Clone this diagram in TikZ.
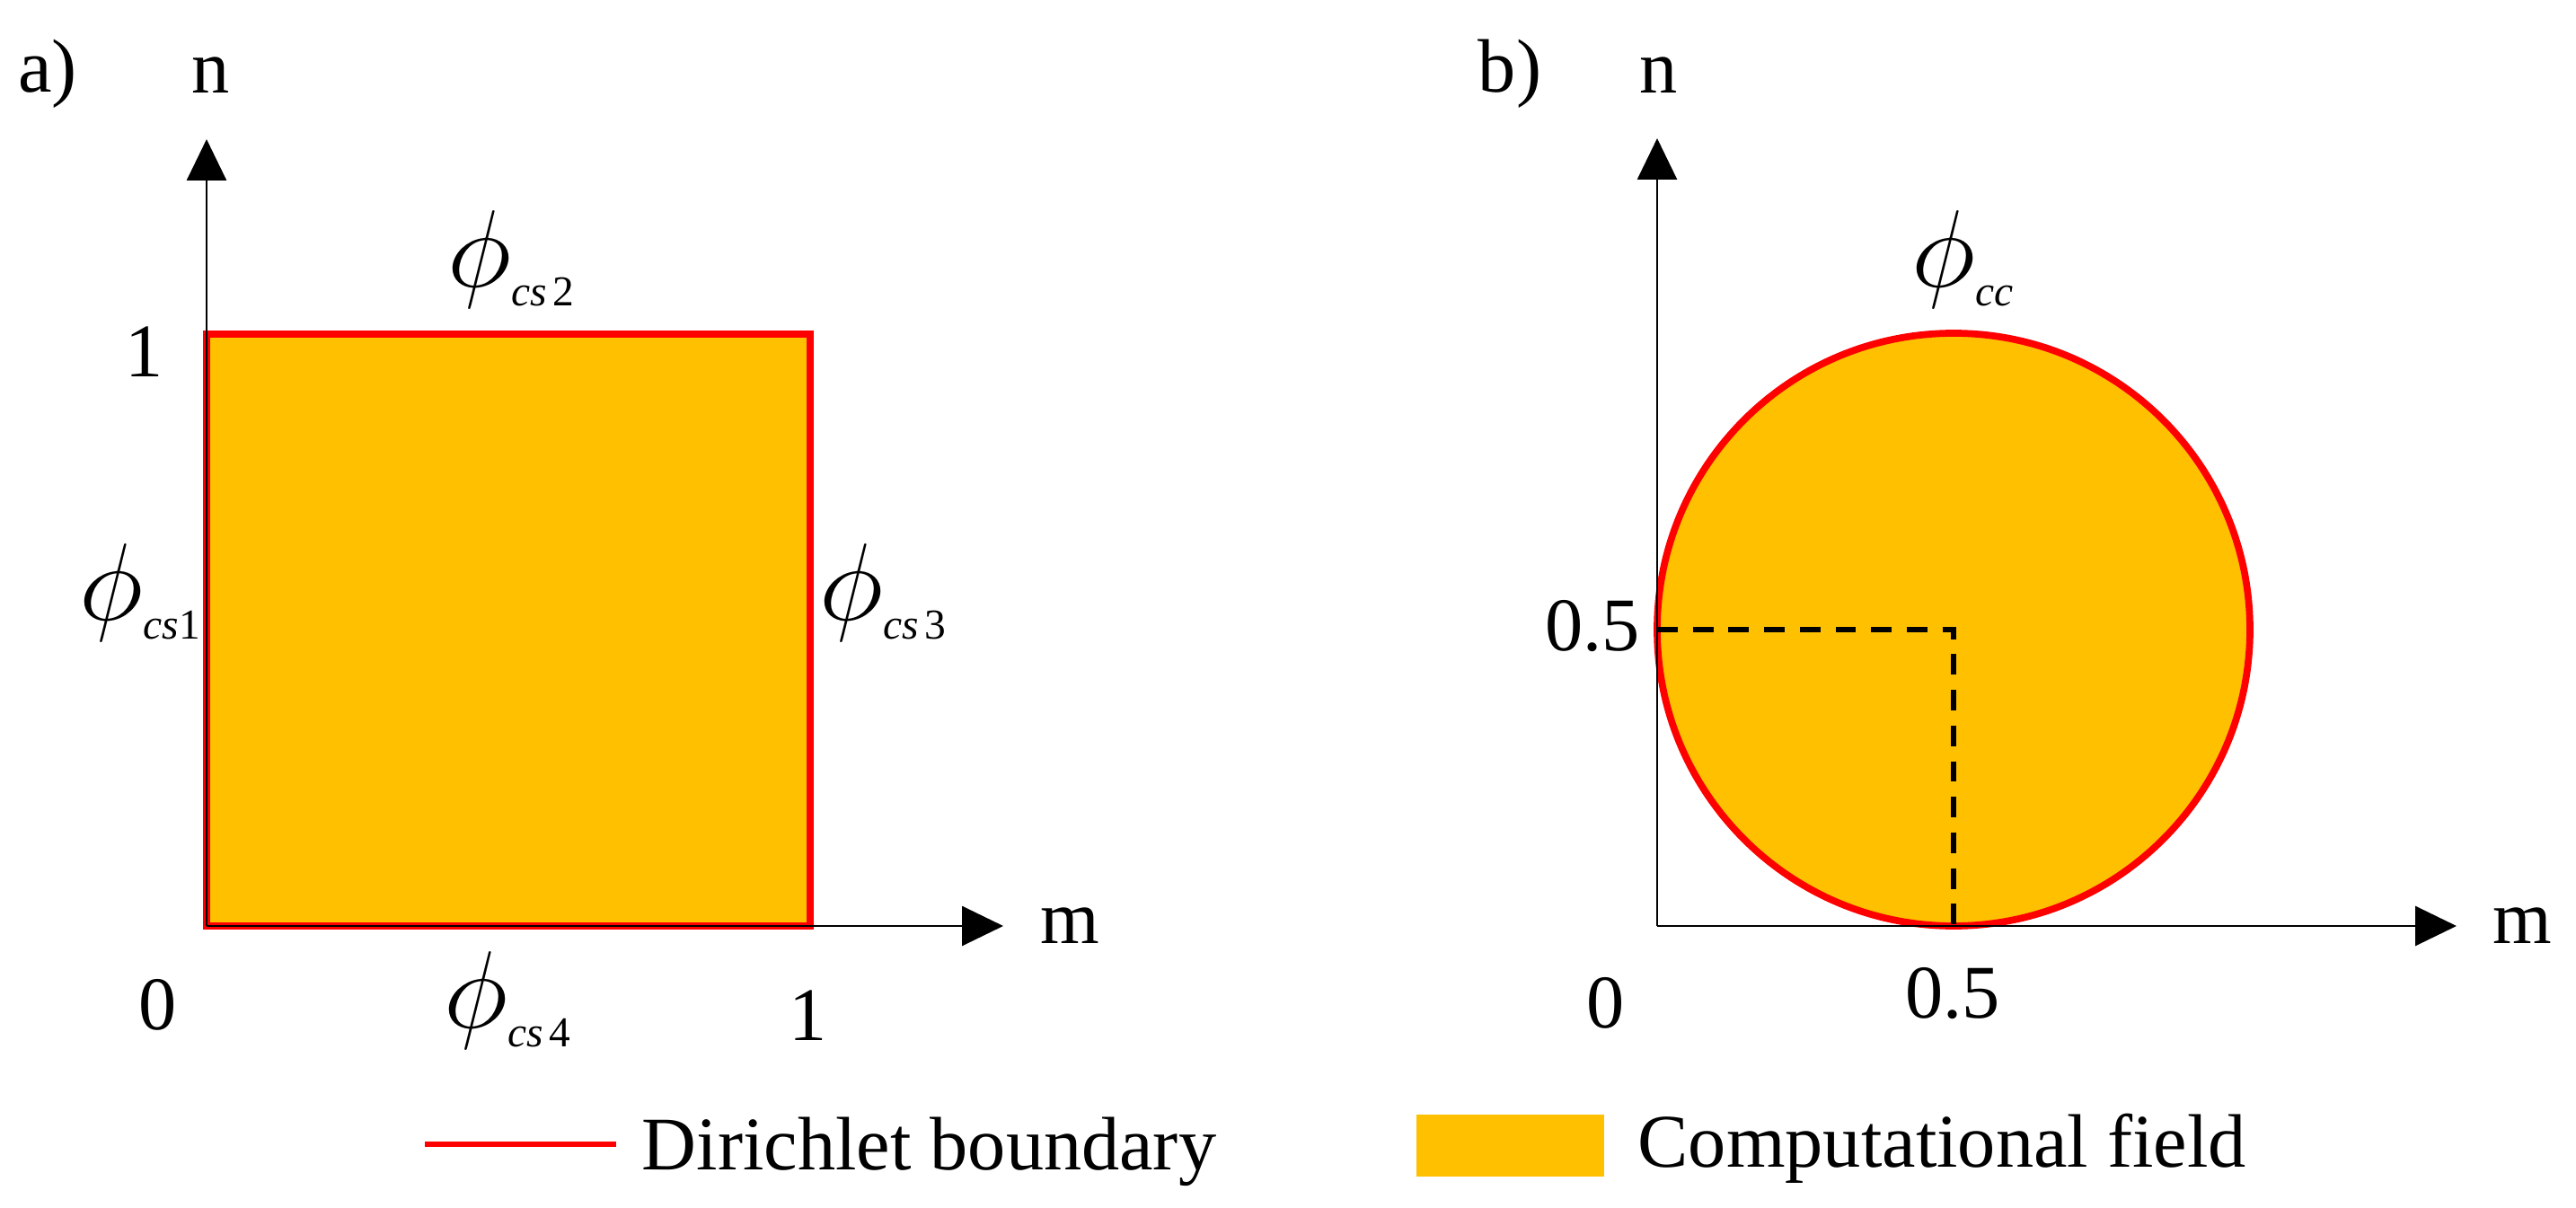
\RequirePackage{fix-cm}
\documentclass[tikz,border=0pt]{standalone}
\usepackage{graphicx}
\usepackage{fontspec}
\setmainfont{Liberation Serif}
\usetikzlibrary{arrows.meta}
\definecolor{fieldgold}{HTML}{FFC000}
\definecolor{bcred}{HTML}{FF0000}
\newcommand{\bcphi}[1]{\scalebox{1.45}{$\phi$}\raisebox{-6pt}{\fontsize{13.5}{15}\selectfont #1}}
\tikzset{
  lbl/.style={font=\fontsize{24}{28}\selectfont, inner sep=0pt},
  philbl/.style={font=\fontsize{24}{28}\selectfont, inner sep=0pt},
  leg/.style={font=\fontsize{24}{28}\selectfont, inner sep=0pt, anchor=base west},
  axis/.style={line width=0.8pt, -{Triangle[length=0.46cm, width=0.44cm]}},
  field/.style={fill=fieldgold, draw=bcred, line width=2.4pt},
  guide/.style={line width=1.6pt, dash pattern=on 6.5pt off 4.8pt}
}
\begin{document}
\begin{tikzpicture}
    \useasboundingbox (0,0) rectangle (28.68,13.44);

    % panel a
    \coordinate (O1) at (2.30,3.13);
    \coordinate (N1) at (2.30,11.89);
    \coordinate (M1) at (11.17,3.13);
    \coordinate (R1) at (9.02,9.72);
    \draw[field] (O1) rectangle (R1);
    \draw[axis] (O1) -- (N1);
    \draw[axis] (O1) -- (M1);
    \node[lbl] (A) at (0.53,12.62) {a)};
    \node[lbl] (nA) at (2.35,12.60) {n};
    \node[lbl] (mA) at (11.91,3.13) {m};
    \node[lbl] (oneA) at (1.61,9.52) {1};
    \node[lbl] (zeroA) at (1.76,2.25) {0};
    \node[lbl] (oneB) at (9.00,2.13) {1};
    \node[philbl] (cs1) at (1.56,6.84) {\bcphi{\textit{cs}1}};
    \node[philbl] (cs2) at (5.69,10.55) {\bcphi{\textit{cs}\kern2pt2}};
    \node[philbl] (cs3) at (9.83,6.84) {\bcphi{\textit{cs}\kern2pt3}};
    \node[philbl] (cs4) at (5.65,2.30) {\bcphi{\textit{cs}\kern2pt4}};

    % panel b
    \coordinate (O2) at (18.45,3.13);
    \coordinate (N2) at (18.45,11.90);
    \coordinate (M2) at (27.35,3.13);
    \coordinate (C2) at (21.75,6.43);
    \coordinate (L2) at (18.45,6.43);
    \coordinate (B2) at (21.75,3.13);
    \draw[field, line width=2.2pt] (C2) circle (3.30);
    \draw[guide] (L2) -- (C2) -- (B2);
    \draw[axis] (O2) -- (N2);
    \draw[axis] (O2) -- (M2);
    \node[lbl] (B) at (16.81,12.62) {b)};
    \node[lbl] (nB) at (18.47,12.60) {n};
    \node[lbl] (mB) at (28.08,3.13) {m};
    \node[lbl] (halfL) at (17.73,6.47) {0.5};
    \node[lbl] (halfB) at (21.74,2.38) {0.5};
    \node[lbl] (zeroB) at (17.88,2.27) {0};
    \node[philbl] (cc) at (21.85,10.55) {\bcphi{\textit{cc}}};

    % legend
    \coordinate (redL) at (4.73,0.70);
    \coordinate (redR) at (6.86,0.70);
    \draw[bcred, line width=1.8pt] (redL) -- (redR);
    \node[leg] (dir) at (7.14,0.42) {Dirichlet boundary};
    \fill[fieldgold] (15.77,0.34) rectangle (17.86,1.03);
    \node[leg] (comp) at (18.23,0.45) {Computational field};
\end{tikzpicture}
\end{document}
